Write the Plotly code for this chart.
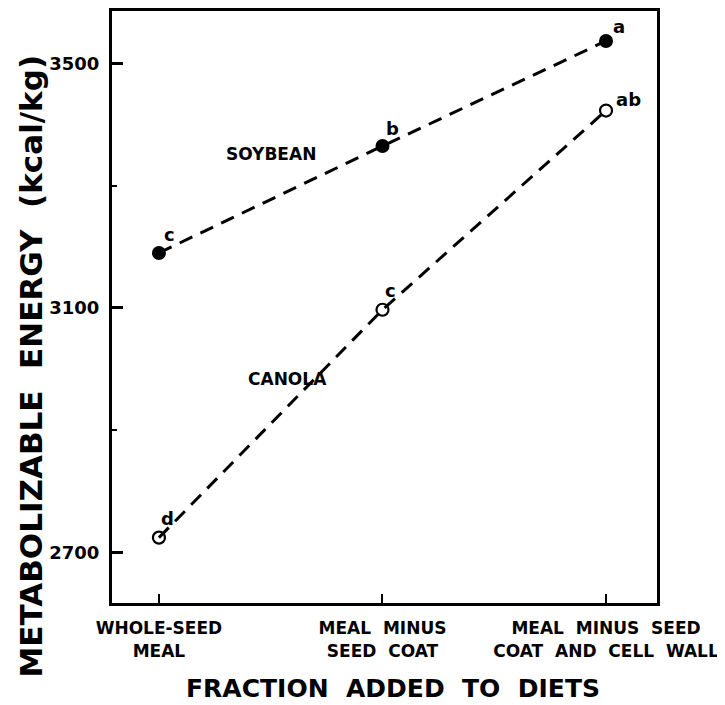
import plotly.graph_objects as go

# ---- data ----
fractions = ["WHOLE-SEED<br>MEAL", "MEAL  MINUS<br>SEED  COAT", "MEAL  MINUS  SEED<br>COAT  AND  CELL  WALL"]
x_pos = [1, 2, 3]
soybean_me = [3190, 3365, 3537]
canola_me = [2724, 3097, 3423]
soybean_letters = ["c", "b", "a"]
canola_letters = ["d", "c", "ab"]
y_ticks = [2700, 3100, 3500]

FONT = "DejaVu Sans"
BOLD = dict(family=FONT, color="black", weight="bold")

fig = go.Figure()

fig.add_trace(go.Scatter(
    x=x_pos, y=soybean_me, mode="lines+markers", name="SOYBEAN",
    line=dict(color="black", width=3, dash="14px,9px"),
    marker=dict(symbol="circle", size=14, color="black"),
))
fig.add_trace(go.Scatter(
    x=x_pos, y=canola_me, mode="lines+markers", name="CANOLA",
    line=dict(color="black", width=3, dash="14px,9px"),
    marker=dict(symbol="circle-open", size=12, color="black", line=dict(width=2.2)),
))

# letter offsets (pixels) relative to each point
soy_shift = [(11, 18), (10, 18), (13, 14)]
can_shift = [(9, 19), (8, 19), (22, 11)]

annotations = []
for xv, yv, t, (dx, dy) in zip(x_pos, soybean_me, soybean_letters, soy_shift):
    annotations.append(dict(x=xv, y=yv, xref="x", yref="y", text=t, showarrow=False,
                            xshift=dx, yshift=dy, font=dict(BOLD, size=18)))
for xv, yv, t, (dx, dy) in zip(x_pos, canola_me, canola_letters, can_shift):
    annotations.append(dict(x=xv, y=yv, xref="x", yref="y", text=t, showarrow=False,
                            xshift=dx, yshift=dy, font=dict(BOLD, size=18)))

annotations.append(dict(x=1.5, y=3352, xref="x", yref="y", text="SOYBEAN", showarrow=False,
                        font=dict(BOLD, size=17)))
annotations.append(dict(x=1.576, y=2984, xref="x", yref="y", text="CANOLA", showarrow=False,
                        font=dict(BOLD, size=17)))

annotations.append(dict(x=-0.148, y=0.40, xref="paper", yref="paper", textangle=-90,
                        text="METABOLIZABLE  ENERGY  (kcal/kg)", showarrow=False,
                        xanchor="center", yanchor="middle",
                        font=dict(BOLD, size=31)))
annotations.append(dict(x=0.515, y=-0.145, xref="paper", yref="paper",
                        text="FRACTION  ADDED  TO  DIETS", showarrow=False,
                        xanchor="center", yanchor="middle",
                        font=dict(BOLD, size=25)))

fig.update_layout(
    width=725, height=705,
    margin=dict(l=104, r=76, t=0, b=110),
    paper_bgcolor="white", plot_bgcolor="white",
    showlegend=False,
    annotations=annotations,
    font=dict(family=FONT, color="black"),
)
fig.update_xaxes(
    range=[0.790, 3.228], tickvals=x_pos, ticktext=fractions,
    showline=True, linecolor="black", linewidth=3, mirror=True,
    ticks="inside", ticklen=9, tickwidth=2, tickcolor="black",
    showgrid=False, zeroline=False, ticklabelstandoff=8,
    tickfont=dict(BOLD, size=17),
)
fig.update_yaxes(
    range=[2617, 3586], tickvals=y_ticks,
    showline=True, linecolor="black", linewidth=3, mirror=True,
    ticks="inside", ticklen=11, tickwidth=2.5, tickcolor="black",
    minor=dict(tickvals=[2900, 3300], ticks="inside", ticklen=5, tickwidth=2, tickcolor="black"),
    showgrid=False, zeroline=False, ticklabelstandoff=6,
    tickfont=dict(BOLD, size=18),
)

fig.write_html("out.html")
